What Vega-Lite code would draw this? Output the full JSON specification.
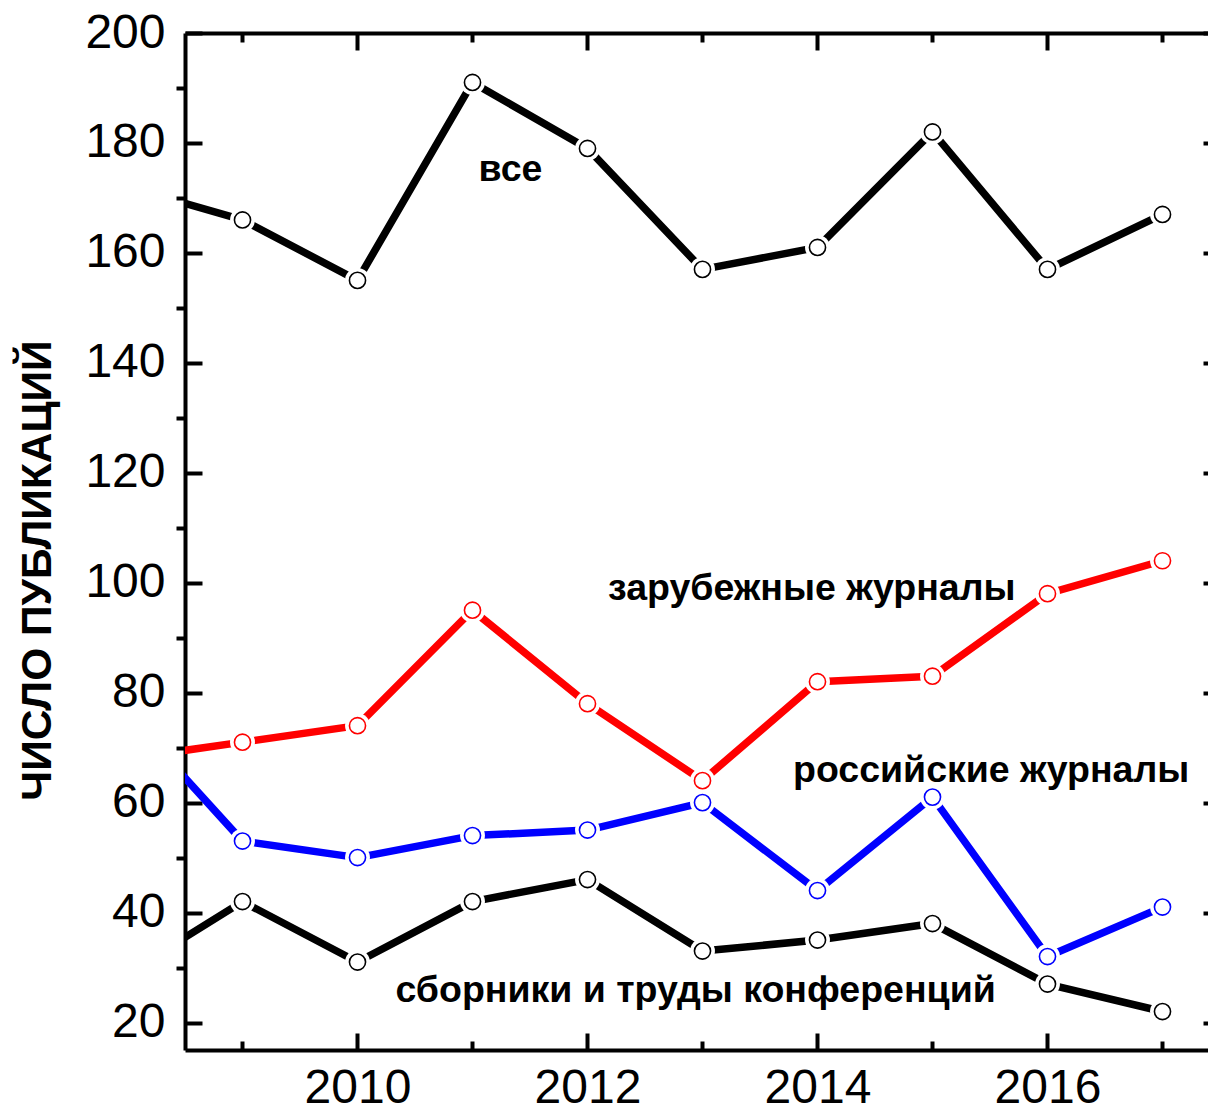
{
  "$schema": "https://vega.github.io/schema/vega-lite/v6.json",
  "width": 1023,
  "height": 1017,
  "autosize": {"type": "none"},
  "padding": {"left": 185, "top": 33, "right": 0, "bottom": 61},
  "background": "white",
  "config": {
    "view": {"stroke": null},
    "font": "Liberation Sans",
    "axis": {"grid": false, "domainColor": "black", "tickColor": "black", "labelColor": "black", "titleColor": "black", "domainWidth": 4, "tickWidth": 4, "labelFont": "Liberation Sans", "labelFontSize": 48, "labelFontWeight": "normal"}
  },
  "datasets": {
    "series": [
      {"year": 2008, "value": 172, "series": "все"},
      {"year": 2009, "value": 166, "series": "все"},
      {"year": 2010, "value": 155, "series": "все"},
      {"year": 2011, "value": 191, "series": "все"},
      {"year": 2012, "value": 179, "series": "все"},
      {"year": 2013, "value": 157, "series": "все"},
      {"year": 2014, "value": 161, "series": "все"},
      {"year": 2015, "value": 182, "series": "все"},
      {"year": 2016, "value": 157, "series": "все"},
      {"year": 2017, "value": 167, "series": "все"},
      {"year": 2008, "value": 68, "series": "зарубежные журналы"},
      {"year": 2009, "value": 71, "series": "зарубежные журналы"},
      {"year": 2010, "value": 74, "series": "зарубежные журналы"},
      {"year": 2011, "value": 95, "series": "зарубежные журналы"},
      {"year": 2012, "value": 78, "series": "зарубежные журналы"},
      {"year": 2013, "value": 64, "series": "зарубежные журналы"},
      {"year": 2014, "value": 82, "series": "зарубежные журналы"},
      {"year": 2015, "value": 83, "series": "зарубежные журналы"},
      {"year": 2016, "value": 98, "series": "зарубежные журналы"},
      {"year": 2017, "value": 104, "series": "зарубежные журналы"},
      {"year": 2008, "value": 76, "series": "российские журналы"},
      {"year": 2009, "value": 53, "series": "российские журналы"},
      {"year": 2010, "value": 50, "series": "российские журналы"},
      {"year": 2011, "value": 54, "series": "российские журналы"},
      {"year": 2012, "value": 55, "series": "российские журналы"},
      {"year": 2013, "value": 60, "series": "российские журналы"},
      {"year": 2014, "value": 44, "series": "российские журналы"},
      {"year": 2015, "value": 61, "series": "российские журналы"},
      {"year": 2016, "value": 32, "series": "российские журналы"},
      {"year": 2017, "value": 41, "series": "российские журналы"},
      {"year": 2008, "value": 29, "series": "сборники и труды конференций"},
      {"year": 2009, "value": 42, "series": "сборники и труды конференций"},
      {"year": 2010, "value": 31, "series": "сборники и труды конференций"},
      {"year": 2011, "value": 42, "series": "сборники и труды конференций"},
      {"year": 2012, "value": 46, "series": "сборники и труды конференций"},
      {"year": 2013, "value": 33, "series": "сборники и труды конференций"},
      {"year": 2014, "value": 35, "series": "сборники и труды конференций"},
      {"year": 2015, "value": 38, "series": "сборники и труды конференций"},
      {"year": 2016, "value": 27, "series": "сборники и труды конференций"},
      {"year": 2017, "value": 22, "series": "сборники и труды конференций"}
    ],
    "labels": [
      {"year": 2011.33, "value": 175, "label": "все"},
      {"year": 2013.95, "value": 98.9, "label": "зарубежные журналы"},
      {"year": 2015.51, "value": 65.8, "label": "российские журналы"},
      {"year": 2012.94, "value": 25.8, "label": "сборники и труды конференций"}
    ]
  },
  "resolve": {"scale": {"x": "shared", "y": "shared", "color": "shared"}, "axis": {"x": "independent", "y": "independent"}},
  "layer": [
    {
      "data": {"name": "series"},
      "mark": {"type": "line", "clip": true, "strokeWidth": 7.5, "strokeCap": "round", "strokeJoin": "round"},
      "encoding": {
        "x": {"field": "year", "type": "quantitative", "scale": {"domain": [2008.5, 2017.3957], "nice": false, "zero": false},
          "axis": {"orient": "bottom", "values": [2010, 2012, 2014, 2016], "format": "d", "tickSize": -17, "labelPadding": 31, "title": null, "domain": true}},
        "y": {"field": "value", "type": "quantitative", "scale": {"domain": [15, 200], "nice": false, "zero": false},
          "axis": {"orient": "left", "values": [20, 40, 60, 80, 100, 120, 140, 160, 180, 200], "format": "d", "tickSize": -17, "labelPadding": 37, "title": "ЧИСЛО ПУБЛИКАЦИЙ", "titleFont": "Liberation Sans", "titleFontSize": 42.5, "titleFontWeight": "bold", "titlePadding": 25, "titleY": 537}},
        "color": {"field": "series", "type": "nominal", "scale": {"domain": ["все", "зарубежные журналы", "российские журналы", "сборники и труды конференций"], "range": ["#000000", "#FF0000", "#0000FF", "#000000"]}, "legend": null},
        "detail": {"field": "series"}
      }
    },
    {
      "data": {"name": "series"},
      "mark": {"type": "point", "clip": true, "filled": true, "shape": "circle", "size": 620, "color": "white", "opacity": 1},
      "encoding": {
        "x": {"field": "year", "type": "quantitative",
          "axis": {"orient": "bottom", "values": [2009, 2011, 2013, 2015, 2017], "tickSize": -9, "labels": false, "domain": false, "title": null}},
        "y": {"field": "value", "type": "quantitative",
          "axis": {"orient": "left", "values": [30, 50, 70, 90, 110, 130, 150, 170, 190], "tickSize": 9, "labels": false, "domain": false, "title": null}}
      }
    },
    {
      "data": {"name": "series"},
      "mark": {"type": "point", "clip": true, "filled": false, "shape": "circle", "size": 260, "fill": "white", "fillOpacity": 1, "strokeWidth": 1.6, "opacity": 1},
      "encoding": {
        "x": {"field": "year", "type": "quantitative",
          "axis": {"orient": "top", "values": [2010, 2012, 2014, 2016], "tickSize": -17, "labels": false, "domain": true, "title": null}},
        "y": {"field": "value", "type": "quantitative",
          "axis": {"orient": "right", "offset": 12, "values": [20, 40, 60, 80, 100, 120, 140, 160, 180, 200], "tickSize": -17, "labels": false, "domain": true, "title": null}},
        "stroke": {"field": "series", "type": "nominal", "scale": {"domain": ["все", "зарубежные журналы", "российские журналы", "сборники и труды конференций"], "range": ["#000000", "#FF0000", "#0000FF", "#000000"]}, "legend": null},
        "detail": {"field": "series"}
      }
    },
    {
      "data": {"name": "labels"},
      "mark": {"type": "text", "font": "Liberation Sans", "fontWeight": "bold", "fontSize": 37.5, "align": "center", "baseline": "middle", "color": "black"},
      "encoding": {
        "x": {"field": "year", "type": "quantitative",
          "axis": {"orient": "top", "values": [2009, 2011, 2013, 2015, 2017], "tickSize": -9, "labels": false, "domain": false, "title": null}},
        "y": {"field": "value", "type": "quantitative", "axis": null},
        "text": {"field": "label"}
      }
    }
  ]
}
